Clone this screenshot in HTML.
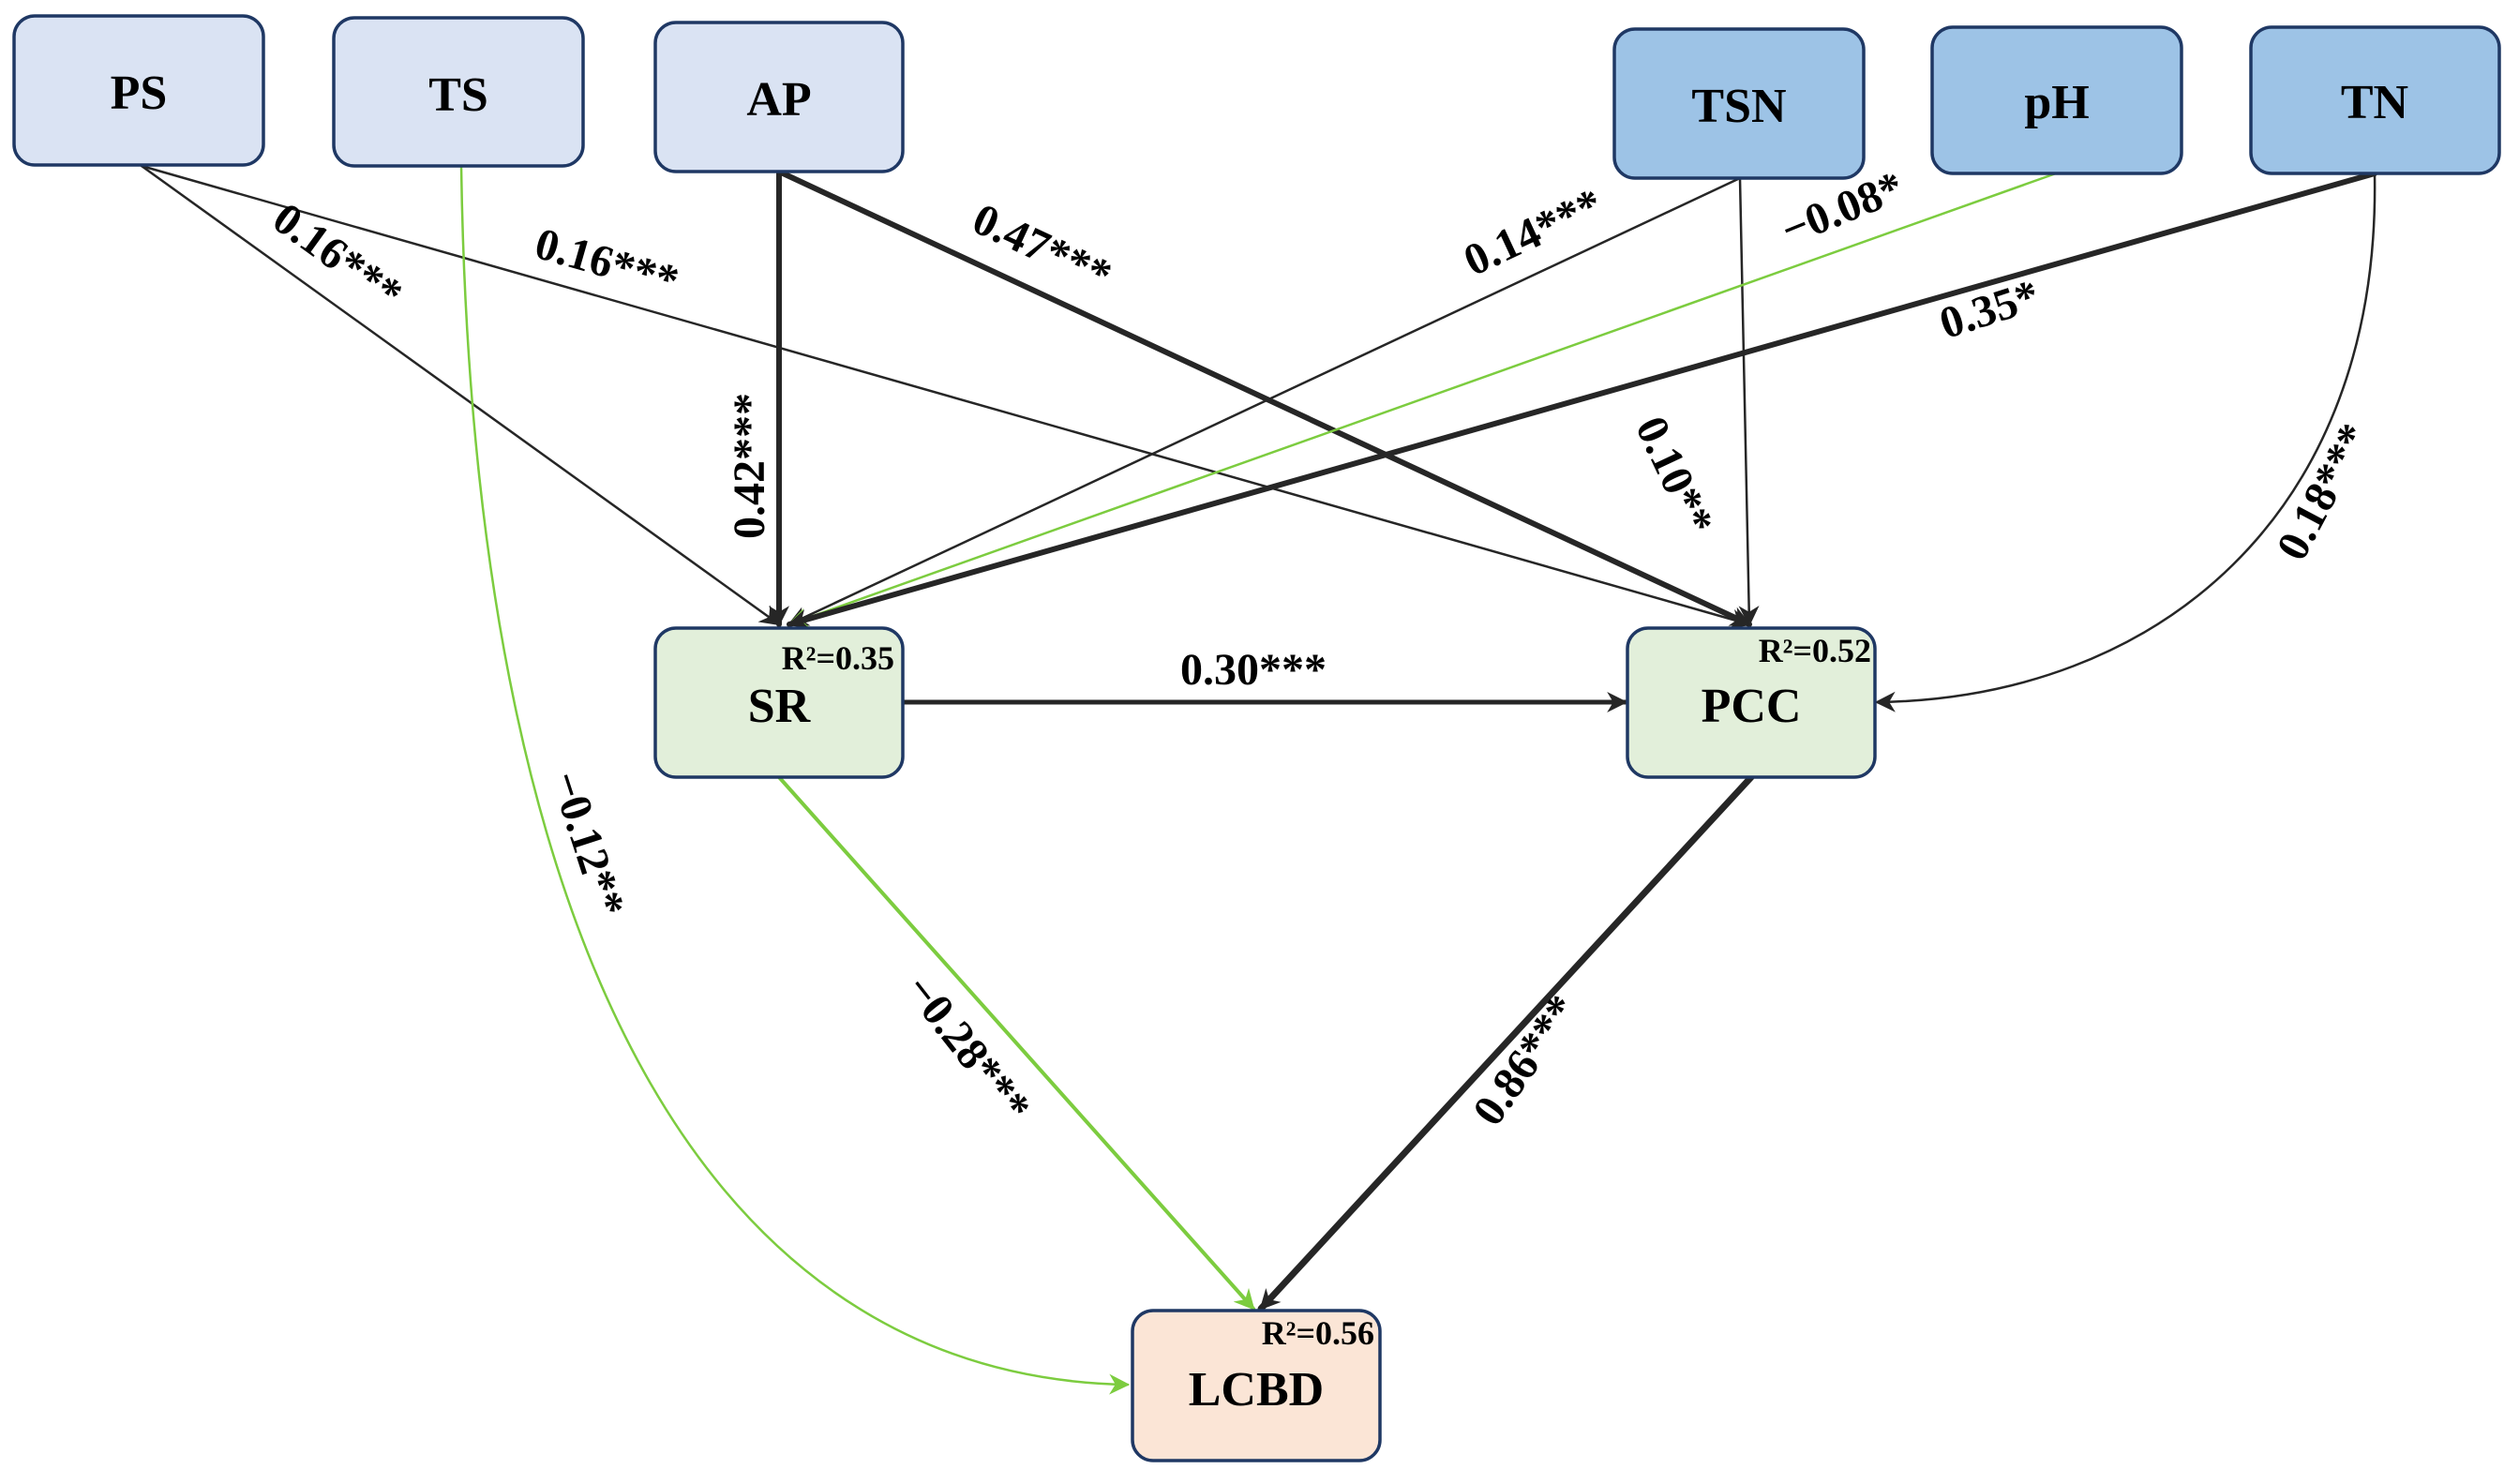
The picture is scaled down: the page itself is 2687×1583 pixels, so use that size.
<!DOCTYPE html>
<html><head><meta charset="utf-8"><style>
html,body{margin:0;padding:0;background:#fff;}
svg{display:block;}
text{font-family:"Liberation Serif",serif;font-weight:bold;fill:#000;}
</style></head><body>
<svg width="2687" height="1583" viewBox="0 0 2687 1583" xmlns="http://www.w3.org/2000/svg">
<defs>
<marker id="ad" viewBox="0 0 10 10" refX="9" refY="5" markerWidth="26" markerHeight="22" markerUnits="userSpaceOnUse" orient="auto"><path d="M0,0 L10,5 L0,10 L3,5 Z" fill="#262626"/></marker>
<marker id="ag" viewBox="0 0 10 10" refX="9" refY="5" markerWidth="26" markerHeight="22" markerUnits="userSpaceOnUse" orient="auto"><path d="M0,0 L10,5 L0,10 L3,5 Z" fill="#7ccc3f"/></marker>
</defs>
<g fill="none" stroke-linecap="round">
<line x1="151" y1="177" x2="831" y2="666" stroke="#262626" stroke-width="2.5" marker-end="url(#ad)"/>
<line x1="151" y1="177" x2="1866" y2="666" stroke="#262626" stroke-width="2.5" marker-end="url(#ad)"/>
<path d="M492,177 C505,1060 780,1470 1203,1477" stroke="#7ccc3f" stroke-width="2.5" marker-end="url(#ag)"/>
<line x1="831" y1="183" x2="831" y2="666" stroke="#262626" stroke-width="6" marker-end="url(#ad)"/>
<line x1="831" y1="183" x2="1866" y2="666" stroke="#262626" stroke-width="6" marker-end="url(#ad)"/>
<line x1="1856" y1="190" x2="842" y2="666" stroke="#262626" stroke-width="2.5" marker-end="url(#ad)"/>
<line x1="1856" y1="190" x2="1866" y2="666" stroke="#262626" stroke-width="2.5" marker-end="url(#ad)"/>
<line x1="2193" y1="185" x2="842" y2="666" stroke="#7ccc3f" stroke-width="2.5" marker-end="url(#ag)"/>
<line x1="2533" y1="185" x2="842" y2="666" stroke="#262626" stroke-width="6" marker-end="url(#ad)"/>
<path d="M2533,185 C2540,550 2300,745 2002,749" stroke="#262626" stroke-width="2.5" marker-end="url(#ad)"/>
<line x1="963" y1="749" x2="1734" y2="749" stroke="#262626" stroke-width="5" marker-end="url(#ad)"/>
<line x1="831" y1="829" x2="1337" y2="1396" stroke="#7ccc3f" stroke-width="4" marker-end="url(#ag)"/>
<line x1="1868" y1="829" x2="1345" y2="1396" stroke="#262626" stroke-width="7" marker-end="url(#ad)"/>
</g>
<g stroke="#1f3864" stroke-width="3.5">
<rect x="15" y="17" width="266" height="159" rx="22" fill="#dae3f3"/>
<rect x="356" y="19" width="266" height="158" rx="22" fill="#dae3f3"/>
<rect x="699" y="24" width="264" height="159" rx="22" fill="#dae3f3"/>
<rect x="1722" y="31" width="266" height="159" rx="22" fill="#9dc3e6"/>
<rect x="2061" y="29" width="266" height="156" rx="22" fill="#9dc3e6"/>
<rect x="2401" y="29" width="265" height="156" rx="22" fill="#9dc3e6"/>
<rect x="699" y="670" width="264" height="159" rx="22" fill="#e2efda"/>
<rect x="1736" y="670" width="264" height="159" rx="22" fill="#e2efda"/>
<rect x="1208" y="1398" width="264" height="160" rx="22" fill="#fbe5d6"/>
</g>
<g font-size="52" text-anchor="middle">
<text x="148" y="116">PS</text>
<text x="489" y="118">TS</text>
<text x="831" y="123">AP</text>
<text x="1855" y="130">TSN</text>
<text x="2194" y="126">pH</text>
<text x="2533" y="126">TN</text>
<text x="831" y="770">SR</text>
<text x="1868" y="770">PCC</text>
<text x="1340" y="1499">LCBD</text>
</g>
<g font-size="36" text-anchor="end">
<text x="954" y="714">R²=0.35</text>
<text x="1996" y="706">R²=0.52</text>
<text x="1466" y="1434">R²=0.56</text>
</g>
<g font-size="48" text-anchor="middle">
<text transform="translate(351,286) rotate(36)">0.16***</text>
<text transform="translate(643,295) rotate(16)">0.16***</text>
<text transform="translate(612,905) rotate(72)">−0.12**</text>
<text transform="translate(815,497) rotate(-90)">0.42***</text>
<text transform="translate(1105,278) rotate(25)">0.47***</text>
<text transform="translate(1642,262) rotate(-25)">0.14***</text>
<text transform="translate(1772,514) rotate(65)">0.10**</text>
<text transform="translate(1971,237) rotate(-22)">−0.08*</text>
<text transform="translate(2127,345) rotate(-18)">0.35*</text>
<text transform="translate(2492,532) rotate(-62)">0.18***</text>
<text x="1337" y="730">0.30***</text>
<text transform="translate(1020,1128) rotate(52)">−0.28***</text>
<text transform="translate(1640,1140) rotate(-55)">0.86***</text>
</g>
</svg>
</body></html>
